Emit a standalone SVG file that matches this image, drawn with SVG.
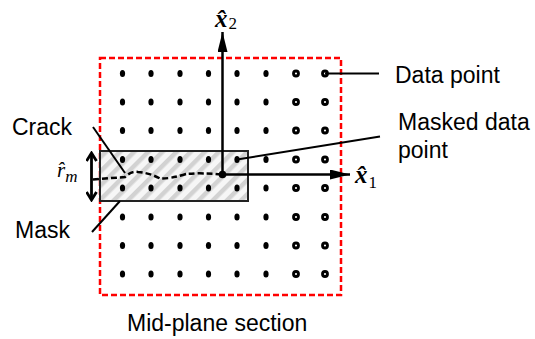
<svg xmlns="http://www.w3.org/2000/svg" width="535" height="339" viewBox="0 0 535 339">
<defs>
<style>
.lbl{font-family:"Liberation Sans",Arial,sans-serif;font-size:23px;fill:#000}
.math{font-family:"Liberation Serif","Times New Roman",serif;fill:#000}
.dot{fill:#000}
.ring{fill:#fff;stroke:#000;stroke-width:2.8}
.lead{stroke:#000;stroke-width:2;fill:none}
.axis{stroke:#000;stroke-width:2.5;fill:none}
</style>
<pattern id="hatch" width="10" height="10" patternUnits="userSpaceOnUse" patternTransform="rotate(45)">
<rect width="10" height="10" fill="#f6f6f6"/>
<rect width="4.5" height="10" fill="#d2d2d2"/>
</pattern>
<marker id="ah" viewBox="0 0 20 10" refX="20" refY="5" markerWidth="20" markerHeight="10" markerUnits="userSpaceOnUse" orient="auto">
<path d="M0,0 L20,5 L0,10 Z" fill="#000"/>
</marker>
<marker id="dh" viewBox="0 0 12 12" refX="10" refY="6" markerWidth="12" markerHeight="12" markerUnits="userSpaceOnUse" orient="auto">
<path d="M2,1 L10,6 L2,11" fill="none" stroke="#000" stroke-width="2.8"/>
</marker>
</defs>
<rect width="535" height="339" fill="#fff"/>

<g id="section">
<rect x="100" y="58" width="241" height="237" fill="none" stroke="#ff0000" stroke-width="2.5" stroke-dasharray="6,3"/>
</g>

<g id="mask">
<rect x="100" y="151" width="148" height="50" fill="url(#hatch)" stroke="#222" stroke-width="2"/>
</g>

<g id="data-points">
<g class="dot">
<ellipse cx="122.5" cy="73.5" rx="2.6" ry="3.6"/><ellipse cx="151" cy="73.5" rx="2.6" ry="3.6"/><ellipse cx="180" cy="73.5" rx="2.6" ry="3.6"/><ellipse cx="208.5" cy="73.5" rx="2.6" ry="3.6"/><ellipse cx="237" cy="73.5" rx="2.6" ry="3.6"/><ellipse cx="266" cy="73.5" rx="2.6" ry="3.6"/>
<ellipse cx="122.5" cy="102" rx="2.6" ry="3.6"/><ellipse cx="151" cy="102" rx="2.6" ry="3.6"/><ellipse cx="180" cy="102" rx="2.6" ry="3.6"/><ellipse cx="208.5" cy="102" rx="2.6" ry="3.6"/><ellipse cx="237" cy="102" rx="2.6" ry="3.6"/><ellipse cx="266" cy="102" rx="2.6" ry="3.6"/>
<ellipse cx="122.5" cy="130.5" rx="2.6" ry="3.6"/><ellipse cx="151" cy="130.5" rx="2.6" ry="3.6"/><ellipse cx="180" cy="130.5" rx="2.6" ry="3.6"/><ellipse cx="208.5" cy="130.5" rx="2.6" ry="3.6"/><ellipse cx="237" cy="130.5" rx="2.6" ry="3.6"/><ellipse cx="266" cy="130.5" rx="2.6" ry="3.6"/>
<ellipse cx="122.5" cy="159.5" rx="2.6" ry="3.6"/><ellipse cx="151" cy="159.5" rx="2.6" ry="3.6"/><ellipse cx="180" cy="159.5" rx="2.6" ry="3.6"/><ellipse cx="208.5" cy="159.5" rx="2.6" ry="3.6"/><ellipse cx="237" cy="159.5" rx="2.6" ry="3.6"/><ellipse cx="266" cy="159.5" rx="2.6" ry="3.6"/>
<ellipse cx="122.5" cy="188" rx="2.6" ry="3.6"/><ellipse cx="151" cy="188" rx="2.6" ry="3.6"/><ellipse cx="180" cy="188" rx="2.6" ry="3.6"/><ellipse cx="208.5" cy="188" rx="2.6" ry="3.6"/><ellipse cx="237" cy="188" rx="2.6" ry="3.6"/><ellipse cx="266" cy="188" rx="2.6" ry="3.6"/>
<ellipse cx="122.5" cy="217" rx="2.6" ry="3.6"/><ellipse cx="151" cy="217" rx="2.6" ry="3.6"/><ellipse cx="180" cy="217" rx="2.6" ry="3.6"/><ellipse cx="208.5" cy="217" rx="2.6" ry="3.6"/><ellipse cx="237" cy="217" rx="2.6" ry="3.6"/><ellipse cx="266" cy="217" rx="2.6" ry="3.6"/>
<ellipse cx="122.5" cy="245.5" rx="2.6" ry="3.6"/><ellipse cx="151" cy="245.5" rx="2.6" ry="3.6"/><ellipse cx="180" cy="245.5" rx="2.6" ry="3.6"/><ellipse cx="208.5" cy="245.5" rx="2.6" ry="3.6"/><ellipse cx="237" cy="245.5" rx="2.6" ry="3.6"/><ellipse cx="266" cy="245.5" rx="2.6" ry="3.6"/>
<ellipse cx="122.5" cy="274" rx="2.6" ry="3.6"/><ellipse cx="151" cy="274" rx="2.6" ry="3.6"/><ellipse cx="180" cy="274" rx="2.6" ry="3.6"/><ellipse cx="208.5" cy="274" rx="2.6" ry="3.6"/><ellipse cx="237" cy="274" rx="2.6" ry="3.6"/><ellipse cx="266" cy="274" rx="2.6" ry="3.6"/>
</g>
<g class="ring">
<circle cx="296" cy="73.5" r="2.5"/><circle cx="325" cy="73.5" r="2.5"/>
<circle cx="296" cy="102" r="2.5"/><circle cx="325" cy="102" r="2.5"/>
<circle cx="296" cy="130.5" r="2.5"/><circle cx="325" cy="130.5" r="2.5"/>
<circle cx="296" cy="159.5" r="2.5"/><circle cx="325" cy="159.5" r="2.5"/>
<circle cx="296" cy="188" r="2.5"/><circle cx="325" cy="188" r="2.5"/>
<circle cx="296" cy="217" r="2.5"/><circle cx="325" cy="217" r="2.5"/>
<circle cx="296" cy="245.5" r="2.5"/><circle cx="325" cy="245.5" r="2.5"/>
<circle cx="296" cy="274" r="2.5"/><circle cx="325" cy="274" r="2.5"/>
</g>
</g>

<g id="crack">
<path d="M93,179.5 L125,177 Q131,171 138,172 Q150,173 160,178.5 Q170,179 186,174 Q200,172.5 222,174.5" fill="none" stroke="#000" stroke-width="2.5" stroke-dasharray="6,3"/>
</g>

<g id="connectors">
<line class="axis" x1="222.5" y1="174.5" x2="222.5" y2="32" marker-end="url(#ah)"/>
<line class="axis" x1="222.5" y1="174.5" x2="350" y2="174.5" marker-end="url(#ah)"/>
<circle cx="222.5" cy="174.5" r="3.8" fill="#000"/>
<line class="lead" x1="325" y1="73.5" x2="379" y2="73.5"/>
<line class="lead" x1="237" y1="159.5" x2="380" y2="136.5"/>
<line class="lead" x1="93" y1="127" x2="125" y2="173"/>
<line class="lead" x1="120" y1="201" x2="92" y2="232"/>
<line x1="91.5" y1="176" x2="91.5" y2="153" stroke="#000" stroke-width="2.8" marker-end="url(#dh)"/>
<line x1="91.5" y1="176" x2="91.5" y2="200" stroke="#000" stroke-width="2.8" marker-end="url(#dh)"/>
</g>

<g id="labels">
<text class="lbl" x="395" y="82.5">Data point</text>
<text class="lbl" x="398" y="130">Masked data</text>
<text class="lbl" x="398" y="158">point</text>
<text class="lbl" x="12" y="135">Crack</text>
<text class="lbl" x="15" y="238">Mask</text>
<text class="lbl" x="127" y="331">Mid-plane section</text>
<text class="math" x="215" y="27" font-size="25"><tspan font-weight="bold" font-style="italic">x̂</tspan><tspan font-size="17" dx="1" dy="2">2</tspan></text>
<text class="math" x="355" y="183" font-size="25"><tspan font-weight="bold" font-style="italic">x̂</tspan><tspan font-size="17" dx="1" dy="5">1</tspan></text>
<text class="math" x="57" y="177" font-size="21"><tspan font-style="italic">r̂</tspan><tspan font-size="17" font-style="italic" dy="5">m</tspan></text>
</g>
</svg>
